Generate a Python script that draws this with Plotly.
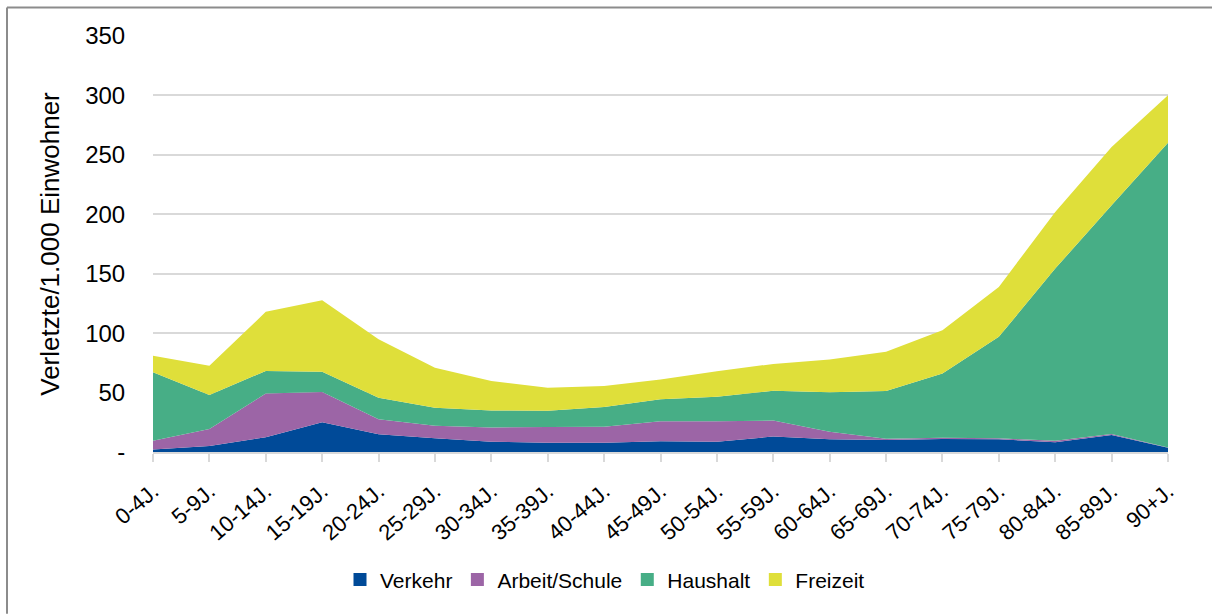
import plotly.graph_objects as go

categories = ["0-4J.", "5-9J.", "10-14J.", "15-19J.", "20-24J.", "25-29J.", "30-34J.",
              "35-39J.", "40-44J.", "45-49J.", "50-54J.", "55-59J.", "60-64J.", "65-69J.",
              "70-74J.", "75-79J.", "80-84J.", "85-89J.", "90+J."]

verkehr = [2, 5, 12.5, 25, 15, 11.5, 8.7, 7.8, 7.8, 9, 8.7, 13, 10.7, 10, 11, 10.7, 8.2, 14.3, 3.6]
arbeit_schule = [7.5, 14.3, 36.7, 25.4, 12.6, 10.6, 12, 13.2, 13.5, 16.8, 17.1, 13.4, 6.4, 1.2, 1, 0.8, 1.3, 0.8, 0.2]
haushalt = [57.5, 28.7, 19, 17.1, 18.1, 15.1, 14.3, 13.7, 16.5, 18.5, 20.7, 25.2, 33.1, 40.1, 54.1, 85.4, 144.8, 192.5, 256.4]
freizeit = [14, 24.5, 49.7, 60.2, 49.1, 33.7, 24.7, 19.3, 17.7, 16.7, 21.5, 22.5, 27.7, 33, 36.4, 42, 47.6, 49, 40]

y_tickvals = [0, 50, 100, 150, 200, 250, 300, 350]
y_ticktext = ["-", "50", "100", "150", "200", "250", "300", "350"]

series = [
    ("Verkehr", verkehr, "#004a98"),
    ("Arbeit/Schule", arbeit_schule, "#9c65a6"),
    ("Haushalt", haushalt, "#47ae86"),
    ("Freizeit", freizeit, "#dfdf3a"),
]

FONT = "Liberation Sans, Arial, sans-serif"

fig = go.Figure()
for name, vals, col in series:
    fig.add_trace(go.Scatter(
        x=categories, y=vals, name=name, mode="none",
        stackgroup="one", fillcolor=col, showlegend=False, legendgroup=name,
    ))
# legend entries with square swatches
for name, vals, col in series:
    fig.add_trace(go.Scatter(
        x=[None], y=[None], name=name, mode="markers", legendgroup=name,
        marker=dict(symbol="square", size=13, color=col), showlegend=True,
    ))

L, R, T, B = 153, 44, 35.5, 162
W, H = 1212, 614
pw = W - L - R
ph = H - T - B

fig.update_layout(
    width=W, height=H,
    margin=dict(l=L, r=R, t=T, b=B),
    paper_bgcolor="white", plot_bgcolor="white",
    font=dict(family=FONT, color="#000000", size=21),
    showlegend=True,
    legend=dict(orientation="h", x=(605 - L) / pw, xanchor="center",
                y=(452 - 580) / ph, yanchor="middle",
                font=dict(size=21), traceorder="normal", itemwidth=30),
    xaxis=dict(
        type="category", range=[0, 18],
        tickangle=-41, tickfont=dict(size=22),
        ticks="outside", ticklen=8, tickcolor="#d9d9d9", tickwidth=1.5,
        ticklabelstandoff=8,
        showline=True, linecolor="#d9d9d9", linewidth=1.5,
        showgrid=False, zeroline=False,
    ),
    yaxis=dict(
        range=[0, 350], tickvals=y_tickvals, ticktext=y_ticktext,
        tickfont=dict(size=24),
        ticks="outside", ticklen=22, tickcolor="rgba(0,0,0,0)",
        showgrid=True, gridcolor="#d9d9d9", gridwidth=1.5,
        zeroline=False, showline=False,
        title=dict(text="Verletzte/1.000 Einwohner", font=dict(size=26), standoff=18),
    ),
)

# outer frame lines (top and left)
fig.add_shape(type="line", xref="paper", yref="paper",
              x0=(7 - L) / pw, x1=(W - L) / pw, y0=1 + (T - 7) / ph, y1=1 + (T - 7) / ph,
              line=dict(color="#8c8c8c", width=2))
fig.add_shape(type="line", xref="paper", yref="paper",
              x0=(7 - L) / pw, x1=(7 - L) / pw, y0=1 + (T - 7) / ph, y1=(452 - H) / ph,
              line=dict(color="#8c8c8c", width=2))

fig.write_html("out.html", config={"displayModeBar": False},
               post_script="document.body.style.margin='0';document.body.style.overflow='hidden';")
